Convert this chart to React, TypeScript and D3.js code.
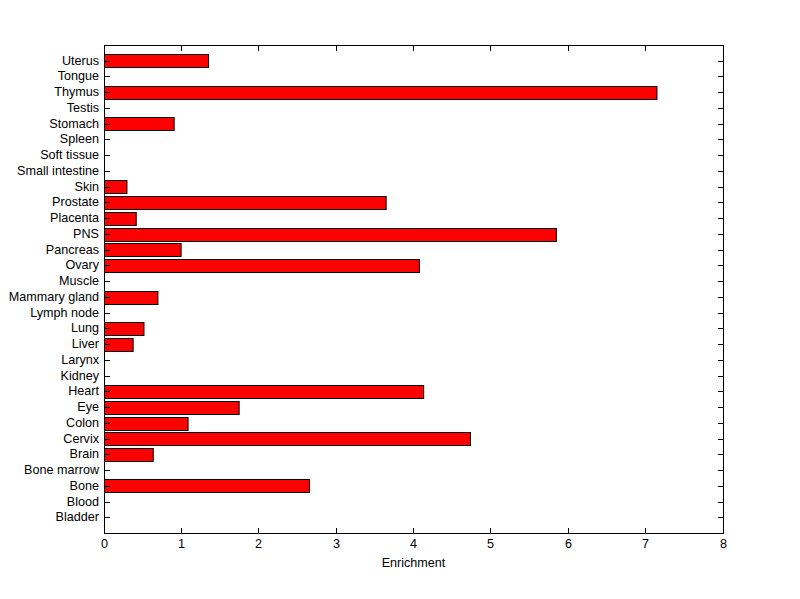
import React from "react";
import * as d3 from "d3";

const categories = [
  "Bladder", "Blood", "Bone", "Bone marrow", "Brain", "Cervix", "Colon", "Eye", "Heart", "Kidney",
  "Larynx", "Liver", "Lung", "Lymph node", "Mammary gland", "Muscle", "Ovary", "Pancreas", "PNS",
  "Placenta", "Prostate", "Skin", "Small intestine", "Soft tissue", "Spleen", "Stomach", "Testis",
  "Thymus", "Tongue", "Uterus",
];
const enrichment = [
  0, 0, 2.65, 0, 0.63, 4.73, 1.08, 1.74, 4.125, 0,
  0, 0.37, 0.51, 0, 0.69, 0, 4.07, 0.99, 5.84,
  0.41, 3.64, 0.29, 0, 0, 0, 0.9, 0,
  7.14, 0, 1.345,
];
const xTicks = [0, 1, 2, 3, 4, 5, 6, 7, 8];
const xLabel = "Enrichment";

const W = 800;
const H = 599;
const left = 104;
const right = 723;
const top = 45;
const bottom = 533;
const font = "Arial, 'Liberation Sans', Helvetica, sans-serif";
const fs = 12.6;
const tickLen = 6;

export default function App() {
  const x = d3.scaleLinear().domain([0, 8]).range([left, right]);
  const y = d3.scaleLinear().domain([0, categories.length + 1]).range([bottom, top]);
  const band = y(0) - y(0.8);

  return (
    <svg width={W} height={H} style={{ position: "absolute", left: 0, top: 0, background: "#fff" }}>
      <rect x={0} y={0} width={W} height={H} fill="#fff" />
      {enrichment.map((v, i) =>
        v > 0 ? (
          <rect
            key={categories[i]}
            x={x(0) + 0.5}
            y={Math.round(y(i + 1) - band / 2) + 0.5}
            width={x(v) - x(0)}
            height={Math.round(band)}
            fill="#ff0000"
            stroke="#000"
            strokeWidth={1}
          />
        ) : null
      )}
      <rect x={left + 0.5} y={top + 0.5} width={right - left} height={bottom - top} fill="none" stroke="#000" strokeWidth={1} />
      {categories.map((c, i) => {
        const yy = Math.round(y(i + 1)) + 0.5;
        return (
          <g key={c}>
            <line x1={left} x2={left + tickLen} y1={yy} y2={yy} stroke="#000" />
            <line x1={right - tickLen + 1} x2={right + 1} y1={yy} y2={yy} stroke="#000" />
            <text x={left - 5} y={yy - 0.5} dy="0.35em" textAnchor="end" fontFamily={font} fontSize={fs} fill="#000">
              {c}
            </text>
          </g>
        );
      })}
      {xTicks.map((t) => {
        const xx = Math.floor(x(t)) + 0.5;
        return (
          <g key={t}>
            <line x1={xx} x2={xx} y1={bottom + 1} y2={bottom + 1 - tickLen} stroke="#000" />
            <line x1={xx} x2={xx} y1={top} y2={top + tickLen} stroke="#000" />
            <text x={xx} y={548} textAnchor="middle" fontFamily={font} fontSize={fs} fill="#000">
              {t}
            </text>
          </g>
        );
      })}
      <text x={(left + right) / 2} y={567} textAnchor="middle" fontFamily={font} fontSize={fs} fill="#000">
        {xLabel}
      </text>
    </svg>
  );
}
